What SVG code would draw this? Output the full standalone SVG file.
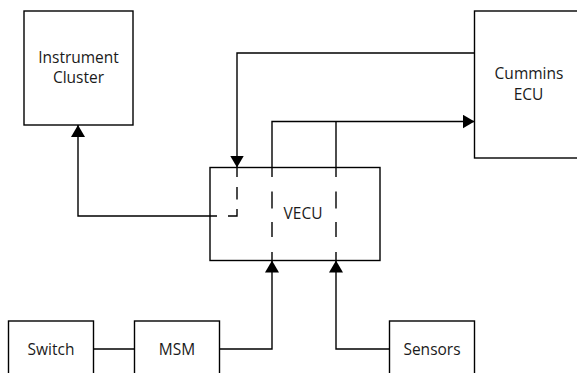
<svg xmlns="http://www.w3.org/2000/svg" width="577" height="373" viewBox="0 0 577 373">
<defs>
<style>
.box{fill:#fff;stroke:#000;stroke-width:1.4}
.lbl{font-family:"Open Sans","Liberation Sans",sans-serif;font-size:15.5px;fill:#1a1a1a;text-anchor:middle}
.c{fill:none;stroke:#000;stroke-width:1.4}
.d{fill:none;stroke:#000;stroke-width:1.4}
</style>
<marker id="ah" viewBox="0 0 12 14" refX="12" refY="7" markerWidth="12" markerHeight="14" markerUnits="userSpaceOnUse" orient="auto">
<path d="M0,0 L12,7 L0,14 z" fill="#000"/>
</marker>
</defs>
<rect width="577" height="373" fill="#fff"/>
<g id="instrument-cluster">
<rect class="box" x="24" y="11" width="109" height="114"/>
<text class="lbl" x="78.5" y="62.5">Instrument</text>
<text class="lbl" x="78.5" y="82.5">Cluster</text>
</g>
<g id="cummins-ecu">
<rect class="box" x="474.5" y="11" width="130" height="147"/>
<text class="lbl" x="529" y="78.5">Cummins</text>
<text class="lbl" x="528.5" y="99.5">ECU</text>
</g>
<g id="vecu">
<rect class="box" x="210" y="167.5" width="170" height="93"/>
<text class="lbl" x="303" y="219">VECU</text>
</g>
<g id="switch">
<rect class="box" x="8.5" y="321" width="85" height="70"/>
<text class="lbl" x="51" y="354.5">Switch</text>
</g>
<g id="msm">
<rect class="box" x="134.5" y="321" width="85" height="70"/>
<text class="lbl" x="177" y="354.5">MSM</text>
</g>
<g id="sensors">
<rect class="box" x="389.5" y="321" width="85" height="70"/>
<text class="lbl" x="432" y="354.5">Sensors</text>
</g>
<g id="connectors">
<path class="c" d="M217,216 H78 V125" marker-end="url(#ah)"/>
<path class="c" d="M474.5,53 H237 V167.5" marker-end="url(#ah)"/>
<path class="c" d="M272,167.5 V121.5 H474.5" marker-end="url(#ah)"/>
<path class="c" d="M336,121.5 V167.5"/>
<path class="c" d="M219.5,349 H272 V260.5" marker-end="url(#ah)"/>
<path class="c" d="M389.5,349 H336 V260.5" marker-end="url(#ah)"/>
<path class="c" d="M93.5,349 H134.5"/>
<path class="d" d="M237,167.5 V177 M237,187 V199.5 M237,209 V216 H228"/>
<path class="d" d="M272,167.5 V177 M272,191.5 V208.5 M272,222 V237 M272,252 V260.5"/>
<path class="d" d="M336,167.5 V177 M336,191.5 V208.5 M336,222 V237 M336,252 V260.5"/>
</g>
</svg>
